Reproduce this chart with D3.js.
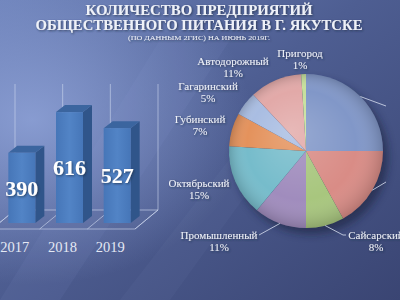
<!DOCTYPE html>
<html>
<head>
<meta charset="utf-8">
<script src="https://cdn.jsdelivr.net/npm/d3@7"></script>
<style>
  html, body { margin: 0; padding: 0; background: #4a5885; overflow: hidden; }
  svg { display: block; }
</style>
</head>
<body>
<div id="canvas"></div>
<script>
const width = 400;
const height = 300;

// data
const years = ['2017', '2018', '2019'];
const counts = [390, 616, 527];

const districts = ['Центральный', 'Строительный', 'Сайсарский', 'Промышленный',
  'Октябрьский', 'Губинский', 'Гагаринский', 'Автодорожный', 'Пригород'];
const shares = [25, 17, 8, 11, 15, 7, 5, 11, 1];

const titleLines = ['КОЛИЧЕСТВО ПРЕДПРИЯТИЙ', 'ОБЩЕСТВЕННОГО ПИТАНИЯ В Г. ЯКУТСКЕ'];
const subtitle = '(ПО ДАННЫМ 2ГИС) НА ИЮНЬ 2019Г.';

// look
const sliceColors = ['#8197c8', '#d98c86', '#a8c67e', '#a08cbd', '#76bccb',
  '#e4925c', '#a9bde2', '#e2a9a8', '#c6e09c'];
// label spots relative to pie centre (placed like the slide does it;
// the first two sit past the right edge of the slide)
const labelSpots = [[142, -39], [142, 37], [70, 90], [-87, 90], [-107, 38],
  [-106, -26], [-98, -59], [-73, -84], [-6, -92]];
const leaderSlices = [0, 1, 2, 3];

const svg = d3.select('#canvas').append('svg')
  .attr('width', width)
  .attr('height', height);

const defs = svg.append('defs');

const bg = defs.append('linearGradient').attr('id', 'bg')
  .attr('x1', 0).attr('y1', 0).attr('x2', 1).attr('y2', 1);
bg.append('stop').attr('offset', 0).attr('stop-color', '#6a7fb7');
bg.append('stop').attr('offset', 0.45).attr('stop-color', '#4e5e92');
bg.append('stop').attr('offset', 1).attr('stop-color', '#3a4573');

const glow = defs.append('radialGradient').attr('id', 'glow')
  .attr('cx', 0.08).attr('cy', 0.4).attr('r', 0.55);
glow.append('stop').attr('offset', 0).attr('stop-color', '#93a7dc').attr('stop-opacity', 0.8);
glow.append('stop').attr('offset', 1).attr('stop-color', '#93a7dc').attr('stop-opacity', 0);

const shade = defs.append('radialGradient').attr('id', 'shade')
  .attr('gradientUnits', 'userSpaceOnUse')
  .attr('cx', 0).attr('cy', 0).attr('r', 78).attr('fx', -15).attr('fy', -20);
shade.append('stop').attr('offset', 0).attr('stop-color', '#fff').attr('stop-opacity', 0.18);
shade.append('stop').attr('offset', 0.7).attr('stop-color', '#fff').attr('stop-opacity', 0);
shade.append('stop').attr('offset', 1).attr('stop-color', '#000').attr('stop-opacity', 0.18);

const front = defs.append('linearGradient').attr('id', 'front')
  .attr('x1', 0).attr('y1', 0).attr('x2', 1).attr('y2', 0);
front.append('stop').attr('offset', 0).attr('stop-color', '#4676b8');
front.append('stop').attr('offset', 0.5).attr('stop-color', '#5284c6');
front.append('stop').attr('offset', 1).attr('stop-color', '#4676b8');

const blur = defs.append('filter').attr('id', 'blur')
  .attr('x', -0.3).attr('y', -0.3).attr('width', 1.6).attr('height', 1.6);
blur.append('feGaussianBlur').attr('stdDeviation', 4);

const tshadow = defs.append('filter').attr('id', 'tshadow');
tshadow.append('feDropShadow').attr('dx', 1).attr('dy', 1)
  .attr('stdDeviation', 0.8).attr('flood-color', '#1c2540').attr('flood-opacity', 0.7);

const clip = defs.append('clipPath').attr('id', 'page');
clip.append('rect').attr('width', width).attr('height', height);

const page = svg.append('g').attr('clip-path', 'url(#page)');

page.append('rect').attr('width', width).attr('height', height).attr('fill', 'url(#bg)');
page.append('rect').attr('width', width).attr('height', height).attr('fill', 'url(#glow)');

// soft diagonal streaks
page.append('path').attr('d', 'M0,300 L160,40 L230,40 L60,300 Z')
  .attr('fill', '#9fb0e0').attr('opacity', 0.07);
page.append('path').attr('d', 'M120,300 L260,120 L300,120 L170,300 Z')
  .attr('fill', '#9fb0e0').attr('opacity', 0.05);

// title
const title = page.append('g').attr('fill', '#eef1f8')
  .attr('font-family', 'Liberation Serif, serif').attr('font-weight', 'bold')
  .attr('text-anchor', 'middle').attr('filter', 'url(#tshadow)');
title.selectAll('text.t').data(titleLines).join('text')
  .attr('class', 't')
  .attr('x', 199)
  .attr('y', (d, i) => 15 + i * 15)
  .attr('font-size', 15)
  .attr('textLength', (d, i) => i === 0 ? 227 : 327)
  .attr('lengthAdjust', 'spacingAndGlyphs')
  .text(d => d);
title.append('text')
  .attr('x', 199).attr('y', 40)
  .attr('font-size', 6.5).attr('font-weight', 'normal')
  .attr('textLength', 142).attr('lengthAdjust', 'spacingAndGlyphs')
  .text(subtitle);

// ---------- 3D bar chart ----------
const depth = [23, -19];   // floor depth vector
const barDepth = [9, -7];
const barShift = [6, -6];
const barW = 27;

const x = d3.scaleBand().domain(years).range([-8, 135]).padding(0);
const y = d3.scaleLinear().domain([0, 700]).range([229, 103]);

const bars = page.append('g');
const gridCol = '#cdd6ee';

// back wall verticals
const edges = [x.range()[0]].concat(years.map(d => x(d) + x.bandwidth()));
bars.selectAll('line.wall').data(edges).join('line')
  .attr('x1', d => d + depth[0]).attr('x2', d => d + depth[0])
  .attr('y1', y(700) + depth[1]).attr('y2', y(0) + depth[1])
  .attr('stroke', gridCol).attr('stroke-opacity', 0.75).attr('stroke-width', 0.8);

// floor
bars.append('path')
  .attr('d', `M${edges[0]},${y(0)} L${edges[3]},${y(0)} L${edges[3] + depth[0]},${y(0) + depth[1]} L${edges[0] + depth[0]},${y(0) + depth[1]} Z`)
  .attr('fill', '#5a6a9c').attr('fill-opacity', 0.25)
  .attr('stroke', gridCol).attr('stroke-opacity', 0.8).attr('stroke-width', 0.8);
bars.selectAll('line.floor').data(edges).join('line')
  .attr('x1', d => d).attr('x2', d => d + depth[0])
  .attr('y1', y(0)).attr('y2', y(0) + depth[1])
  .attr('stroke', gridCol).attr('stroke-opacity', 0.8).attr('stroke-width', 0.8);

const bar = bars.selectAll('g.bar').data(years).join('g')
  .attr('class', 'bar')
  .attr('transform', d => `translate(${x(d) + x.bandwidth() / 2 - barW / 2 + barShift[0]},${barShift[1]})`);

// side
bar.append('path')
  .attr('d', (d, i) => `M${barW},${y(counts[i])} L${barW + barDepth[0]},${y(counts[i]) + barDepth[1]} L${barW + barDepth[0]},${y(0) + barDepth[1]} L${barW},${y(0)} Z`)
  .attr('fill', '#30558a');
// top
bar.append('path')
  .attr('d', (d, i) => `M0,${y(counts[i])} L${barDepth[0]},${y(counts[i]) + barDepth[1]} L${barW + barDepth[0]},${y(counts[i]) + barDepth[1]} L${barW},${y(counts[i])} Z`)
  .attr('fill', '#3b659f');
// front
bar.append('rect')
  .attr('x', 0).attr('width', barW)
  .attr('y', (d, i) => y(counts[i]))
  .attr('height', (d, i) => y(0) - y(counts[i]))
  .attr('fill', 'url(#front)');

bar.append('text')
  .attr('x', barW / 2)
  .attr('y', (d, i) => (y(counts[i]) + y(0)) / 2)
  .attr('dy', '0.36em')
  .attr('text-anchor', 'middle')
  .attr('font-family', 'Liberation Serif, serif')
  .attr('font-weight', 'bold')
  .attr('font-size', 22)
  .attr('fill', '#ffffff')
  .attr('filter', 'url(#tshadow)')
  .text((d, i) => counts[i]);

// year labels
bars.selectAll('text.year').data(years).join('text')
  .attr('class', 'year')
  .attr('x', d => x(d) + x.bandwidth() / 2 - 1)
  .attr('y', 252)
  .attr('text-anchor', 'middle')
  .attr('font-family', 'Liberation Serif, serif')
  .attr('font-size', 14.5)
  .attr('fill', '#e4e9f4')
  .text(d => d);

// ---------- pie ----------
const cx = 306, cy = 151, R = 77;
const pie = d3.pie().sort(null).value(d => d);
const arcs = pie(shares);
const arc = d3.arc().innerRadius(0).outerRadius(R);
const edgeArc = d3.arc().innerRadius(R).outerRadius(R);

const pg = page.append('g').attr('transform', `translate(${cx},${cy})`);

pg.append('circle').attr('cx', 5).attr('cy', 6).attr('r', R)
  .attr('fill', '#141c36').attr('opacity', 0.55).attr('filter', 'url(#blur)');

pg.selectAll('path.slice').data(arcs).join('path')
  .attr('class', 'slice')
  .attr('d', arc)
  .attr('fill', (d, i) => sliceColors[i]);
pg.append('circle').attr('r', R).attr('fill', 'url(#shade)');

// leader lines
pg.selectAll('path.leader').data(leaderSlices).join('path')
  .attr('class', 'leader')
  .attr('d', i => {
    const p = edgeArc.centroid(arcs[i]);
    const s = labelSpots[i];
    let ex;
    if (i < 2) ex = s[0] - 62;
    else ex = s[0] > 0 ? s[0] - 33 : s[0] + 40;
    const ey = s[1] - 6;
    return `M${p[0]},${p[1]} L${ex},${ey}` + (i === 2 ? ` L${ex + 3},${ey}` : '');
  })
  .attr('fill', 'none')
  .attr('stroke', '#d8dff0').attr('stroke-width', 0.8);

const lab = pg.selectAll('text.lab').data(arcs).join('text')
  .attr('class', 'lab')
  .attr('text-anchor', 'middle')
  .attr('font-family', 'Liberation Serif, serif')
  .attr('font-size', 11)
  .attr('fill', '#eef1f8')
  .attr('filter', 'url(#tshadow)')
  .attr('transform', (d, i) => `translate(${labelSpots[i][0]},${labelSpots[i][1]})`);
lab.append('tspan').attr('x', 0).attr('y', -2).text((d, i) => districts[i]);
lab.append('tspan').attr('x', 0).attr('y', 10).text(d => d.data + '%');
</script>
</body>
</html>
